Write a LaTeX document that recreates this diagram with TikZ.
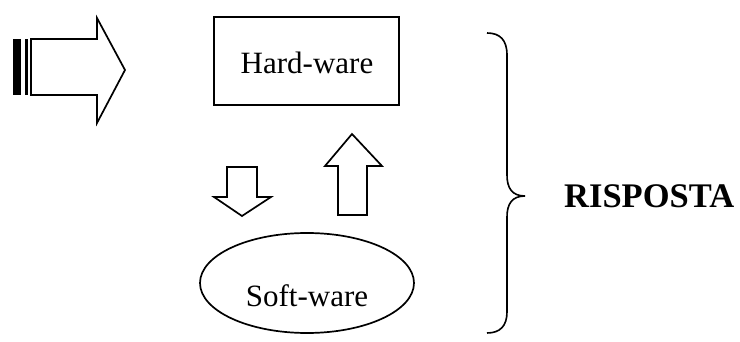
\documentclass[tikz,border=0pt]{standalone}
\usepackage{fontspec}
\setmainfont{Liberation Serif}
\begin{document}
\begin{tikzpicture}[x=1pt,y=-1pt,
  outl/.style={draw=black,line width=1.7pt,line join=miter},
  lbl/.style={font=\fontsize{31}{34}\selectfont},
  blbl/.style={font=\fontsize{34.5}{38}\selectfont\bfseries}]
\useasboundingbox[fill=white] (0,0) rectangle (740,342);
% big input arrow
\fill (13,39) rectangle (21,95);
\fill (24.5,39) rectangle (27.5,95);
\draw[outl] (31,39) -- (97,39) -- (97,18) -- (125,70) -- (97,123) -- (97,95) -- (31,95) -- cycle;
% hardware box
\node[outl,minimum width=185pt,minimum height=88pt,inner sep=0pt] (hw) at (306.5,61) {};
\node[lbl] (hwt) at (307,63) {Hard-ware};
% down arrow
\draw[outl] (227,167) -- (257,167) -- (257,197) -- (271,197) -- (242,216) -- (214,197) -- (227,197) -- cycle;
% up arrow
\draw[outl] (338,215) -- (367,215) -- (367,166) -- (382,166) -- (352,134) -- (325,166) -- (338,166) -- cycle;
% software ellipse
\draw[outl] (307,283) ellipse [x radius=107,y radius=50];
\node[lbl] (swt) at (307,296) {Soft-ware};
% brace
\draw[line width=1.6pt] (487,33) .. controls (500,33) and (507,40) .. (507,55)
  -- (507,175) .. controls (507,188) and (512,196) .. (525,196)
  .. controls (512,196) and (507,204) .. (507,217)
  -- (507,312) .. controls (507,326) and (500,333) .. (487,333);
\node[blbl,anchor=west,inner sep=0pt] (risp) at (564,196) {RISPOSTA};
\end{tikzpicture}
\end{document}
